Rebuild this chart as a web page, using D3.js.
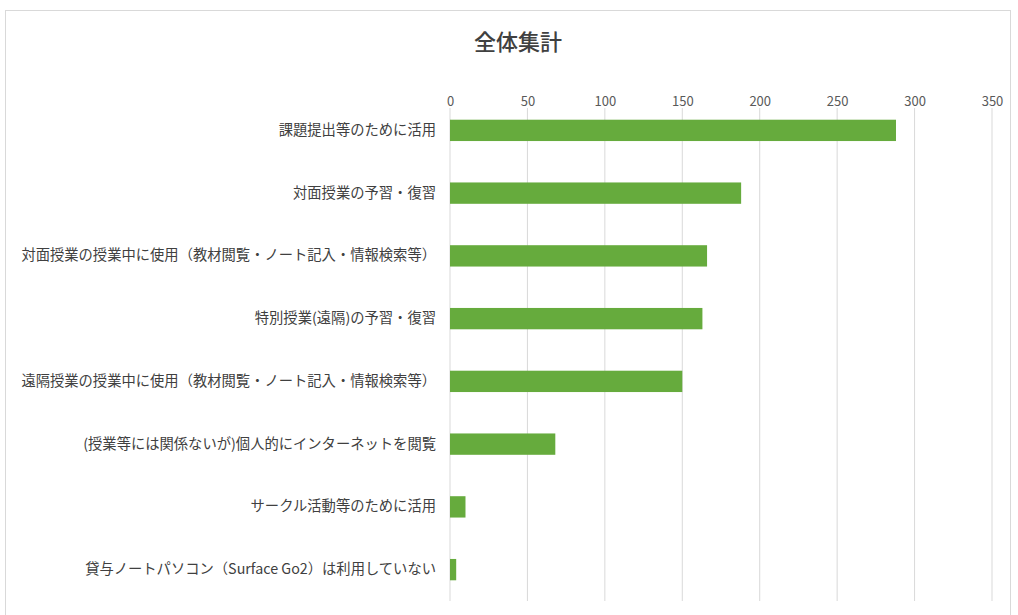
<!DOCTYPE html>
<html><head><meta charset="utf-8">
<script src="https://cdn.jsdelivr.net/npm/d3@7"></script>
<style>body{margin:0;background:#fff;}svg{display:block;}</style>
</head><body>
<svg id="chart" width="1018" height="615"></svg>
<script>
const title = "全体集計";
const categories = [
  "課題提出等のために活用",
  "対面授業の予習・復習",
  "対面授業の授業中に使用（教材閲覧・ノート記入・情報検索等）",
  "特別授業(遠隔)の予習・復習",
  "遠隔授業の授業中に使用（教材閲覧・ノート記入・情報検索等）",
  "(授業等には関係ないが)個人的にインターネットを閲覧",
  "サークル活動等のために活用",
  "貸与ノートパソコン（Surface Go2）は利用していない"
];
const values = [288, 188, 166, 163, 150, 68, 10, 4];
const tickValues = [0, 50, 100, 150, 200, 250, 300, 350];

const svg = d3.select("#chart");
const font = "'Noto Sans CJK JP','Noto Sans',sans-serif";

svg.append("rect").attr("x", 5.5).attr("y", 10.5).attr("width", 1005).attr("height", 610)
  .attr("fill", "#fff").attr("stroke", "#d9d9d9");

const x = d3.scaleLinear().domain([0, 350]).range([450, 992]);
const y = d3.scaleBand().domain(categories).range([99, 601]).paddingInner(0.66).paddingOuter(0.33);

svg.append("text").attr("x", 518).attr("y", 50).attr("text-anchor", "middle")
  .attr("font-family", font).attr("font-size", 22).attr("font-weight", 500)
  .attr("fill", "#404040").text(title);

// gridlines
svg.append("g").selectAll("line").data(tickValues).join("line")
  .attr("x1", d => x(d)).attr("x2", d => x(d)).attr("y1", 108).attr("y2", 601)
  .attr("stroke", "#d9d9d9").attr("stroke-width", 1);

const xAxis = d3.axisTop(x).tickValues(tickValues).tickSize(0).tickPadding(0);
const gx = svg.append("g").attr("transform", "translate(0,106)").call(xAxis);
gx.select(".domain").remove();
gx.selectAll("text").attr("font-family", font).attr("font-size", 13).attr("fill", "#595959");

svg.append("g").selectAll("rect").data(values).join("rect")
  .attr("x", x(0)).attr("y", (d, i) => y(categories[i]))
  .attr("width", d => x(d) - x(0)).attr("height", y.bandwidth())
  .attr("fill", "#66ab3d");

const yAxis = d3.axisLeft(y).tickSize(0).tickPadding(14);
const gy = svg.append("g").attr("transform", `translate(${x(0)},0)`).call(yAxis);
gy.select(".domain").remove();
gy.selectAll("text").attr("font-family", font).attr("font-size", 14.3).attr("fill", "#404040");
</script>
</body></html>
